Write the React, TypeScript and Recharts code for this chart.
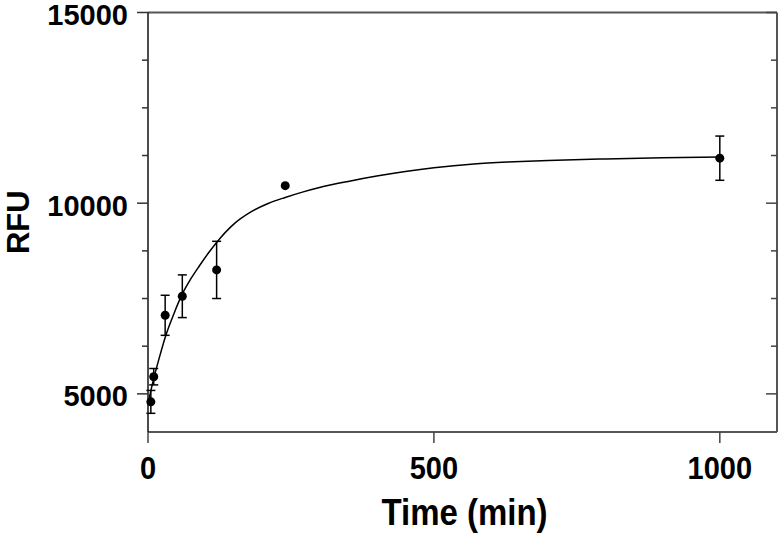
import {
  ComposedChart,
  Line,
  Scatter,
  ErrorBar,
  XAxis,
  YAxis,
  ReferenceLine,
  Label,
} from 'recharts'

// measured points (mean ± error)
const timeMin = [5, 10, 30, 60, 120, 240, 1000]
const rfuMean = [4790, 5450, 7060, 7560, 8250, 10460, 11180]
const rfuErr = [300, 215, 525, 560, 750, 0, 580]

// fitted curve
const fitTime = [0, 10, 20, 30, 45, 60, 75, 90, 105, 120, 150, 180, 210, 240, 270, 300, 350, 400, 450, 500, 570, 640, 700, 800, 900, 1000]
const fitRfu = [4750, 5400, 5960, 6480, 7090, 7620, 8020, 8360, 8680, 8970, 9450, 9770, 9990, 10150, 10290, 10410, 10570, 10710, 10830, 10930, 11030, 11085, 11120, 11160, 11190, 11210]

const xTicks = [0, 500, 1000]
const yTicks = [5000, 6250, 7500, 8750, 10000, 11250, 12500, 13750, 15000]
const yLabelled = [5000, 10000, 15000]

const points = timeMin.map((x, i) => ({ x, y: rfuMean[i], err: rfuErr[i] }))
const fit = fitTime.map((x, i) => ({ x, y: fitRfu[i] }))

const FONT = '"Liberation Sans", Arial, Helvetica, sans-serif'

const LeftTick = ({ x, y, payload }: any) => {
  const major = yLabelled.includes(payload.value)
  return (
    <g>
      <line x1={x - (major ? 11 : 6)} y1={y} x2={x} y2={y} stroke="#333" strokeWidth={1.5} />
      {major && (
        <text x={x - 20} y={y} dy="0.43em" textAnchor="end" fontFamily={FONT} fontWeight="bold" fontSize={29} fill="#000">
          {payload.value}
        </text>
      )}
    </g>
  )
}

const RightTick = ({ x, y, payload }: any) => {
  const major = yLabelled.includes(payload.value)
  return <line x1={x - (major ? 11 : 6)} y1={y} x2={x} y2={y} stroke="#444" strokeWidth={1.5} />
}

const BottomTick = ({ x, y, payload }: any) => (
  <g>
    <line x1={x} y1={y} x2={x} y2={y + 11} stroke="#444" strokeWidth={1.5} />
    <g transform={`translate(${x},${y + 47}) scale(1,1.08)`}>
      <text x={0} y={0} textAnchor="middle" fontFamily={FONT} fontWeight="bold" fontSize={29} fill="#000">
        {payload.value}
      </text>
    </g>
  </g>
)

const XTitle = ({ viewBox }: any) => (
  <g transform={`translate(${viewBox.x + viewBox.width / 2 + 2},${viewBox.y + 93}) scale(1,1.1)`}>
    <text x={0} y={0} textAnchor="middle" fontFamily={FONT} fontWeight="bold" fontSize={33} fill="#000">
      Time (min)
    </text>
  </g>
)

const YTitle = ({ viewBox }: any) => (
  <text
    x={29}
    y={viewBox.y + viewBox.height / 2}
    transform={`rotate(-90, 29, ${viewBox.y + viewBox.height / 2})`}
    textAnchor="middle"
    fontFamily={FONT}
    fontWeight="bold"
    fontSize={31}
    fill="#000"
  >
    RFU
  </text>
)

const Dot = (props: any) => <circle cx={props.cx} cy={props.cy} r={4.5} fill="#000" />

export default function App() {
  return (
    <div style={{ position: 'absolute', left: 0, top: 0, background: '#fff' }}>
      <ComposedChart width={779} height={538} margin={{ top: 12.5, right: 0, bottom: 0, left: 0 }}>
        <XAxis
          type="number"
          dataKey="x"
          domain={[0, 1100]}
          ticks={xTicks}
          height={106}
          tickSize={0}
          tickMargin={0}
          tickLine={false}
          tick={<BottomTick />}
          axisLine={{ stroke: '#555', strokeWidth: 2 }}
        >
          <Label content={<XTitle />} />
        </XAxis>
        <YAxis
          type="number"
          dataKey="y"
          domain={[4000, 15000]}
          ticks={yTicks}
          width={148}
          tickSize={0}
          tickMargin={0}
          tickLine={false}
          tick={<LeftTick />}
          axisLine={{ stroke: '#111', strokeWidth: 1.5 }}
          allowDataOverflow
        >
          <Label content={<YTitle />} />
        </YAxis>
        <YAxis
          yAxisId="right"
          orientation="right"
          type="number"
          dataKey="y"
          domain={[4000, 15000]}
          ticks={yTicks}
          width={2}
          tickSize={0}
          tickMargin={0}
          tickLine={false}
          tick={<RightTick />}
          axisLine={{ stroke: '#555', strokeWidth: 2 }}
          allowDataOverflow
        />
        <ReferenceLine y={15000} stroke="#555" strokeWidth={2} />
        <Line
          data={fit}
          dataKey="y"
          type="monotone"
          stroke="#000"
          strokeWidth={1.5}
          dot={false}
          activeDot={false}
          isAnimationActive={false}
        />
        <Scatter data={points} dataKey="y" shape={<Dot />} isAnimationActive={false}>
          <ErrorBar dataKey="err" direction="y" width={4.5} stroke="#000" strokeWidth={1.5} isAnimationActive={false} />
        </Scatter>
      </ComposedChart>
    </div>
  )
}
